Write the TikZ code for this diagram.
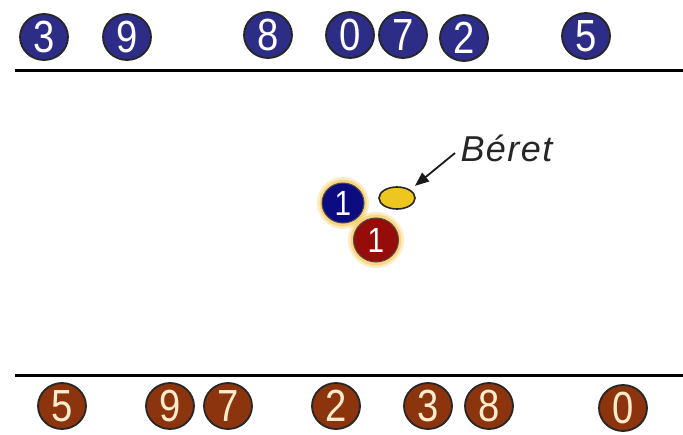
\documentclass[tikz,border=0pt]{standalone}
\usepackage{fontspec}
\setmainfont{Liberation Sans}
\newfontfamily\balldigits[FakeStretch=0.85]{Liberation Sans}
\usetikzlibrary{arrows.meta,shapes.geometric}
\definecolor{ballblue}{RGB}{45,45,135}
\definecolor{ballbrown}{RGB}{140,52,14}
\definecolor{cueblue}{RGB}{12,12,128}
\definecolor{cuered}{RGB}{150,12,10}
\definecolor{jackyellow}{RGB}{238,198,32}
\definecolor{digitcream}{RGB}{255,236,205}
\definecolor{glowyellow}{RGB}{250,190,60}

\begin{document}
\begin{tikzpicture}[x=1pt,y=-1pt,
  bluebal/.style={ellipse,draw=black!85,line width=1.8pt,fill=ballblue,text=white,
    minimum width=48pt,minimum height=46pt,inner sep=0pt,font=\balldigits\fontsize{45}{45}\selectfont},
  brownbal/.style={bluebal,fill=ballbrown,text=digitcream},
  cuebal/.style={ellipse,draw=black!70,line width=1pt,text=white,inner sep=0pt,
    minimum width=42pt,minimum height=40pt,font=\balldigits\fontsize{35}{35}\selectfont},
  glow/.style={fill=glowyellow,opacity=0.3},
  pointer/.style={-{Triangle[length=14pt,width=11pt]},line width=1.8pt,black!90}]
\useasboundingbox (0,0) rectangle (683,434);
% lines
\draw[line width=3pt] (15,70) -- (683,70);
\draw[line width=3pt] (15,375) -- (683,375);
% blue team
\node[bluebal] (b3) at (44,37) {3};
\node[bluebal] (b9) at (127,37) {9};
\node[bluebal] (b8) at (268,35) {8};
\node[bluebal] (b0) at (350,35) {0};
\node[bluebal] (b7) at (403,35) {7};
\node[bluebal] (b2) at (464,38) {2};
\node[bluebal] (b5) at (586,36) {5};
% brown team
\node[brownbal] (r5) at (62,406) {5};
\node[brownbal] (r9) at (170,406) {9};
\node[brownbal] (r7) at (228,406) {7};
\node[brownbal] (r2) at (336,406) {2};
\node[brownbal] (r3) at (428,406) {3};
\node[brownbal] (r8) at (489,406) {8};
\node[brownbal] (r0) at (623,408) {0};
% middle
\fill[glow] (343,203) circle (26);
\fill[glow] (376,240) circle (28);
\fill[glowyellow,opacity=0.5] (343,203) circle (23.5);
\fill[glowyellow,opacity=0.5] (376,240) circle (25.5);
\node[cuebal,fill=cueblue] (c1) at (343,203) {1};
\node[cuebal,fill=cuered,minimum width=45pt,minimum height=44pt] (d1) at (376,240) {1};
\node[ellipse,draw=black!85,line width=1.6pt,fill=jackyellow,minimum width=36pt,minimum height=22pt] (jack) at (397,198) {};
\node[anchor=base west,font=\itshape\fontsize{36}{36}\selectfont\addfontfeatures{LetterSpace=4},text=black!85] (beret) at (457,161) {Béret};
\coordinate (tail) at (455,153);
\draw[pointer,shorten >=6pt] (tail) -- (jack.north east);
\end{tikzpicture}
\end{document}
